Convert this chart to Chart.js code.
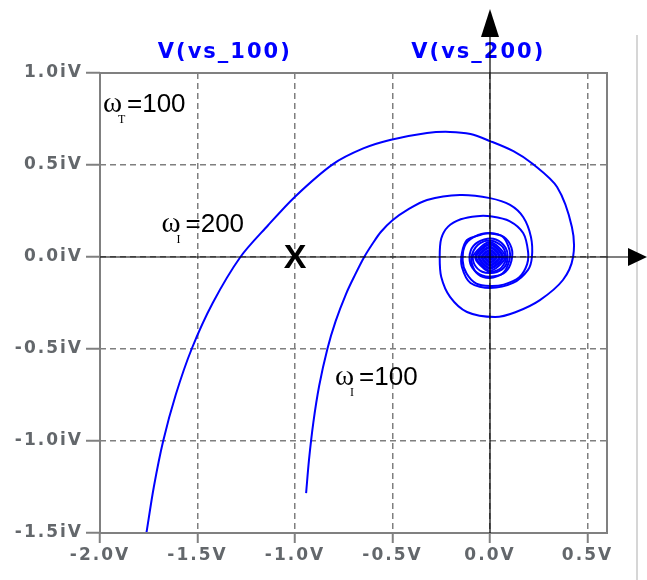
<!DOCTYPE html>
<html><head><meta charset="utf-8">
<script src="https://cdn.jsdelivr.net/npm/chart.js@4.4.1/dist/chart.umd.min.js"></script>
<style>html,body{margin:0;padding:0;background:#fff;}canvas{display:block;}</style>
</head><body>
<canvas id="c" width="647" height="580"></canvas>
<script>
const seriesNames = ['V(vs_100)', 'V(vs_200)'];
const titleX = [-1.36, -0.06];

// larger spiral
const vs200Re = [-1.762,-1.724,-1.676,-1.612,-1.53,-1.422,-1.28,-1.14,-1.0,-0.805,-0.65,-0.513,-0.323,-0.205,-0.1,0,0.12,0.22,0.344,0.42,0.426,0.374,0.256,0.13,0.026,-0.118,-0.205,-0.25,-0.258,-0.25,-0.215,-0.15,-0.067,0.01,0.1,0.17,0.195,0.19,0.15,0.07,0,-0.07,-0.12,-0.14,-0.125,-0.06,0,0.07,0.11,0.11,0.08,0.02,-0.04,-0.09,-0.105,-0.085,-0.03,0.03,0.08,0.09,0.07,0.02,-0.04,-0.08,-0.085,0,0.078,0,-0.070,0,0.062,0,-0.054,0,0.046,0,-0.038,0,0.030,0,-0.022,0,0.014,0,-0.006,0];
const vs200Im = [-1.5,-1.25,-1.0,-0.75,-0.5,-0.25,0,0.17,0.328,0.505,0.59,0.636,0.674,0.68,0.668,0.63,0.575,0.505,0.38,0.163,0,-0.125,-0.234,-0.3,-0.326,-0.299,-0.217,-0.109,0,0.1,0.165,0.205,0.222,0.22,0.195,0.13,0.03,-0.04,-0.11,-0.15,-0.158,-0.145,-0.09,-0.02,0.07,0.12,0.128,0.11,0.05,-0.02,-0.08,-0.105,-0.1,-0.06,0,0.06,0.095,0.095,0.05,-0.01,-0.06,-0.085,-0.08,-0.04,0.01,0.082,0,-0.074,0,0.066,0,-0.058,0,0.050,0,-0.042,0,0.034,0,-0.026,0,0.018,0,-0.010,0,0.003];

// smaller spiral
const vs100Re = [-0.943,-0.928,-0.906,-0.876,-0.834,-0.792,-0.738,-0.6935,-0.645,-0.6,-0.56,-0.5,-0.426,-0.323,-0.154,0,0.103,0.17,0.21,0.215,0.195,0.118,0,-0.1,-0.144,-0.144,-0.118,-0.051,0,0.067,0.1,0.1,0.067,0,-0.06,-0.092,-0.09,-0.05,0.01,0.065,0.082,0.05,-0.01,-0.076,0,0.068,0,-0.060,0,0.052,0,-0.044,0,0.036,0,-0.028,0,0.020,0,-0.012,0,0.004,0];
const vs100Im = [-1.283,-1.1,-0.9,-0.7,-0.5,-0.35,-0.2,-0.1,0,0.076,0.136,0.2,0.255,0.31,0.337,0.32,0.283,0.217,0.109,0,-0.07,-0.141,-0.168,-0.141,-0.054,0.022,0.092,0.12,0.13,0.109,0.038,-0.016,-0.087,-0.114,-0.095,-0.04,0.02,0.075,0.088,0.055,-0.01,-0.065,-0.078,0,0.072,0,-0.064,0,0.056,0,-0.048,0,0.040,0,-0.032,0,0.024,0,-0.016,0,0.008,0,0];

const xTickValues = [-2.0,-1.5,-1.0,-0.5,0.0,0.5];
const xTickLabels = ['-2.0V','-1.5V','-1.0V','-0.5V','0.0V','0.5V'];
const yTickValues = [-1.5,-1.0,-0.5,0.0,0.5,1.0];
const yTickLabels = ['-1.5iV','-1.0iV','-0.5iV','0.0iV','0.5iV','1.0iV'];

// annotations (anchor in data units)
const annoSub = ['T','I','I'];
const annoText = ['=100','=200','=100'];
const annoX = [-1.985,-1.685,-0.795];
const annoY = [0.79,0.135,-0.696];
const markLabel = 'X';
const markX = [-1.0];
const markY = [0.0];

function pts(re, im){ return re.map((v,i)=>({x:v, y:im[i]})); }

function drawOmega(ctx, px, py, sub, txt){
  ctx.fillStyle = '#000';
  ctx.textAlign = 'left';
  ctx.textBaseline = 'alphabetic';
  ctx.font = '29px "Liberation Serif"';
  ctx.fillText('\u03C9', px, py);
  const w = ctx.measureText('\u03C9').width;
  ctx.font = '12px "Liberation Serif"';
  ctx.fillText(sub, px + w - 4, py + 11);
  ctx.font = '26px "Liberation Sans"';
  ctx.fillText(txt, px + w + 5, py);
}

const decor = {
  id: 'decor',
  beforeDraw(chart){ chart.ctx.letterSpacing = '2px'; },
  afterDraw(chart){
    const ctx = chart.ctx, a = chart.chartArea, xs = chart.scales.x, ys = chart.scales.y;
    ctx.save();
    ctx.letterSpacing = '0px';
    ctx.setLineDash([]);
    // plot frame
    ctx.strokeStyle = '#808080'; ctx.lineWidth = 2;
    ctx.strokeRect(a.left, a.top, a.right - a.left, a.bottom - a.top);
    // window edge line
    ctx.strokeStyle = '#d6d6d6'; ctx.lineWidth = 2;
    ctx.beginPath(); ctx.moveTo(637, 35); ctx.lineTo(637, 580); ctx.stroke();
    // trace titles
    ctx.letterSpacing = '2px';
    ctx.font = 'bold 21px "DejaVu Sans"';
    ctx.fillStyle = '#0000ff';
    ctx.textAlign = 'center'; ctx.textBaseline = 'middle';
    seriesNames.forEach((n,i)=> ctx.fillText(n, xs.getPixelForValue(titleX[i]), a.top - 20));
    ctx.letterSpacing = '0px';
    // annotations
    for (let i = 0; i < annoText.length; i++) {
      drawOmega(ctx, xs.getPixelForValue(annoX[i]), ys.getPixelForValue(annoY[i]), annoSub[i], annoText[i]);
    }
    ctx.font = 'bold 34px "Liberation Sans"';
    ctx.fillStyle = '#000';
    ctx.textAlign = 'center'; ctx.textBaseline = 'middle';
    ctx.fillText(markLabel, xs.getPixelForValue(markX[0]), ys.getPixelForValue(markY[0]) + 2);
    // axes with arrows
    const x0 = xs.getPixelForValue(0), y0 = ys.getPixelForValue(0);
    ctx.strokeStyle = '#000'; ctx.fillStyle = '#000'; ctx.lineWidth = 1.2;
    ctx.beginPath(); ctx.moveTo(x0, a.bottom); ctx.lineTo(x0, 30); ctx.stroke();
    ctx.beginPath(); ctx.moveTo(x0, 9); ctx.lineTo(x0 - 9, 37); ctx.lineTo(x0 + 9, 37); ctx.closePath(); ctx.fill();
    ctx.beginPath(); ctx.moveTo(a.left, y0); ctx.lineTo(632, y0); ctx.stroke();
    ctx.beginPath(); ctx.moveTo(647, y0); ctx.lineTo(628, y0 - 9); ctx.lineTo(628, y0 + 9); ctx.closePath(); ctx.fill();
    ctx.restore();
  }
};

const tickFont = {family: 'DejaVu Sans', weight: 'bold', size: 17};
const gridCfg = (len) => ({color: '#7f7f7f', lineWidth: 1.5, tickLength: len, tickColor: '#808080', tickWidth: 2, tickBorderDash: []});

new Chart(document.getElementById('c'), {
  type: 'line',
  data: {datasets: [
    {label: seriesNames[1], data: pts(vs200Re, vs200Im), borderColor: '#0000ff', borderWidth: 2, pointRadius: 0, tension: 0.3, fill: false},
    {label: seriesNames[0], data: pts(vs100Re, vs100Im), borderColor: '#0000ff', borderWidth: 2, pointRadius: 0, tension: 0.3, fill: false}
  ]},
  options: {
    responsive: false, animation: false, events: [],
    layout: {padding: {top: 73, right: 40, left: 0, bottom: 0}},
    plugins: {legend: {display: false}, tooltip: {enabled: false}},
    scales: {
      x: {
        type: 'linear', min: -2, max: 0.6,
        afterBuildTicks: s => { s.ticks = xTickValues.map(v => ({value: v})); },
        afterFit: s => { s.height = 47; },
        ticks: {callback: (v, i) => xTickLabels[i], color: '#63676b', font: tickFont, padding: 2, maxRotation: 0, autoSkip: false},
        grid: gridCfg(10),
        border: {display: false, dash: [6, 4]}
      },
      y: {
        type: 'linear', min: -1.5, max: 1.0,
        afterBuildTicks: s => { s.ticks = yTickValues.map(v => ({value: v})); },
        afterFit: s => { s.width = 100; },
        ticks: {callback: (v, i) => yTickLabels[i], color: '#63676b', font: tickFont, padding: 3, autoSkip: false},
        grid: gridCfg(14),
        border: {display: false, dash: [6, 4]}
      }
    }
  },
  plugins: [decor]
});
</script>
</body></html>
